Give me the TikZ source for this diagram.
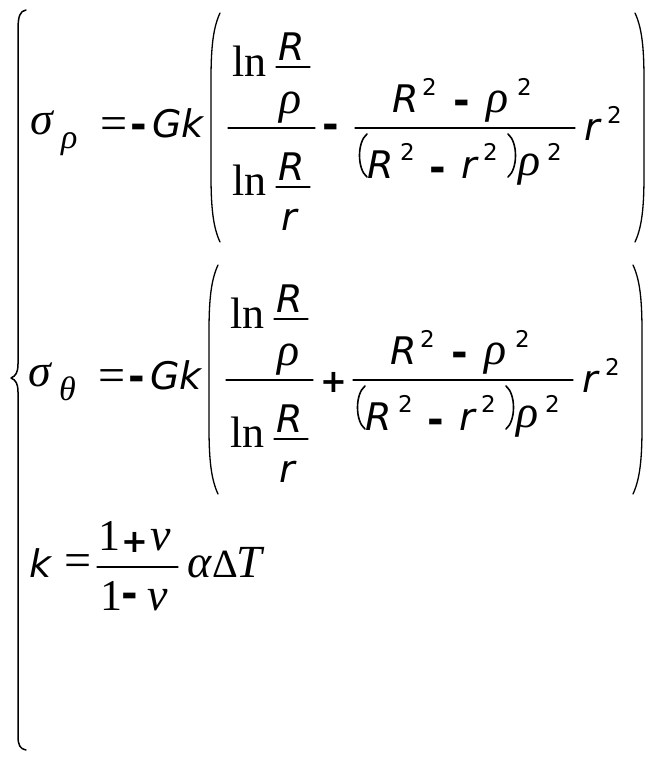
\documentclass[tikz,border=0pt]{standalone}
\usepackage{fontspec}
\setmainfont{Liberation Serif}
\newfontfamily\sansf{DejaVu Sans}
\begin{document}
\begin{tikzpicture}[x=1pt,y=-1pt,line cap=round,line join=round,
  gl/.style={inner sep=0pt,anchor=base west},
  ser/.style={gl,font=\fontsize{44}{44}\selectfont},
  eqs/.style={gl,font=\fontsize{48}{48}\selectfont},
  grk/.style={gl,font=\itshape\fontsize{46}{46}\selectfont},
  rit/.style={gl,font=\sansf\itshape\fontsize{38}{38}\selectfont},
  sq/.style={gl,font=\sansf\fontsize{23}{23}\selectfont},
  mn/.style={gl,font=\sansf\bfseries\fontsize{40}{40}\selectfont},
  bar/.style={line width=1.2pt},
  fence/.style={line width=1.3pt}]
\useasboundingbox (0,0) rectangle (657,761);
% brace
\draw[line width=1.5pt] (26,10) .. controls (20,11) and (18,16) .. (18,30) -- (18,364)
  .. controls (18,372) and (16,376) .. (11,378) .. controls (16,380) and (18,384) .. (18,392)
  -- (18,736) .. controls (18,745) and (20,749) .. (26,750);
% sigma rows
\foreach \row/\dx/\dy/\sub/\op/\ops/\opy in {1/0/0/ρ/-/40/138, 2/-2/252/θ/+/32/392}{
\begin{scope}[shift={(\dx,\dy)}]
  \node[grk] (sig\row) at (30,134) {σ};
  \node[gl,font=\itshape\fontsize{34}{34}\selectfont] (sub\row) at (61,148) {\sub};
  \node[eqs] (eq\row) at (100,139) {=};
  \node[mn] (neg\row) at (130,138) {-};
  \node[rit] (gk\row) at (152,137) {Gk};
  \draw[fence] (220,13) .. controls (213,28) and (211,48) .. (211,80) -- (211,175)
    .. controls (211,207) and (213,227) .. (220,242);
  % ln R/rho over ln R/r
  \node[ser] (lnt\row) at (232,76) {ln};
  \node[rit] (rt\row) at (278,60) {R};
  \draw[bar] (276,67) -- (310,67);
  \node[grk] (rhot\row) at (279,113) {ρ};
  \draw[bar] (228,128) -- (315,128);
  \node[ser] (lnb\row) at (232,195) {ln};
  \node[rit] (rb\row) at (278,180) {R};
  \draw[bar] (276,187) -- (310,187);
  \node[rit] (rr\row) at (281,230) {r};
  \node[gl,font=\sansf\bfseries\fontsize{\ops}{\ops}\selectfont] (op\row) at (322,\opy-\dy) {\op};
  % second fraction
  \node[rit] (a\row) at (392,112) {R};
  \node[sq] (a2\row) at (422,95) {2};
  \node[mn] (am\row) at (453,114) {-};
  \node[grk] (b\row) at (486,112) {ρ};
  \node[sq] (b2\row) at (517,95) {2};
  \draw[bar] (355,128) -- (575,128);
  \draw[line width=1.6pt] (367,134) .. controls (357,142) and (357,169) .. (367,177);
  \node[rit] (c\row) at (367,178) {R};
  \node[sq] (c2\row) at (400,160) {2};
  \node[mn] (cm\row) at (429,181) {-};
  \node[rit] (d\row) at (461,178) {r};
  \node[sq] (d2\row) at (483,160) {2};
  \draw[line width=1.6pt] (508,134) .. controls (518,142) and (518,169) .. (508,177);
  \node[grk] (e\row) at (518,175) {ρ};
  \node[sq] (e2\row) at (547,160) {2};
  \node[rit] (f\row) at (584,140) {r};
  \node[sq] (f2\row) at (607,123) {2};
  \draw[fence] (635,13) .. controls (642,28) and (644,48) .. (644,80) -- (644,175)
    .. controls (644,207) and (642,227) .. (635,242);
\end{scope}
}
% k row
\node[rit] (k) at (29,577) {k};
\node[eqs] (eqk) at (64,576) {=};
\node[ser] (one) at (98,550) {1};
\node[gl,font=\sansf\bfseries\fontsize{32}{32}\selectfont] (pl) at (121,552) {+};
\node[grk] (nut) at (150,550) {ν};
\draw[bar] (97,567) -- (178,567);
\node[ser] (oneb) at (100,610) {1};
\node[mn] (mb) at (121,607) {-};
\node[grk] (nub) at (147,610) {ν};
\node[grk] (al) at (187,577) {α};
\node[gl,font=\fontsize{40}{40}\selectfont] (dl) at (212,577) {Δ};
\node[grk] (tt) at (236,577) {T};
\end{tikzpicture}
\end{document}
